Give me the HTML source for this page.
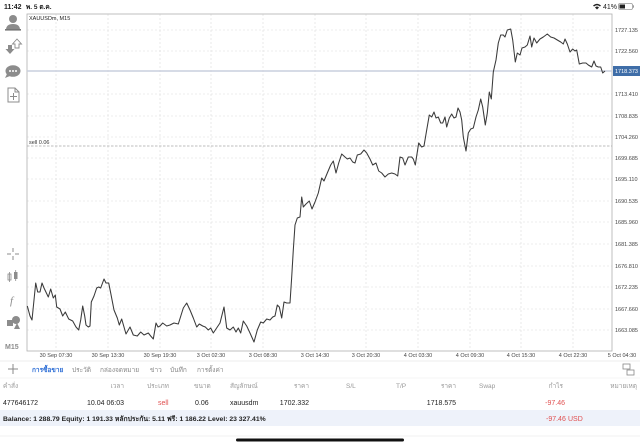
<!DOCTYPE html>
<html><head><meta charset="utf-8">
<style>
html,body{margin:0;padding:0;background:#fff;}
svg{display:block;font-family:"Liberation Sans","DejaVu Sans",sans-serif;}
</style></head>
<body>
<svg width="640" height="447" viewBox="0 0 640 447" xmlns="http://www.w3.org/2000/svg">
<rect width="640" height="447" fill="#fff"/>
<!-- status bar -->
<text x="4" y="9" font-size="7" fill="#222" font-weight="bold">11:42</text>
<text x="26" y="9" font-size="6.5" fill="#222" font-weight="bold">พ. 5 ต.ค.</text>
<g fill="#222">
<path d="M593 5.5 Q597 2 601 5.5 L600 6.5 Q597 4 594 6.5 Z"/>
<path d="M595 7.5 Q597 5.5 599 7.5 L597 9.5 Z"/>
</g>
<text x="603" y="9" font-size="7" fill="#222">41%</text>
<rect x="618.5" y="3.5" width="14" height="6" rx="1.5" fill="none" stroke="#999" stroke-width="0.8"/>
<rect x="619.5" y="4.5" width="5.5" height="4" fill="#222"/>
<rect x="633" y="5.3" width="1" height="2.4" fill="#999"/>

<!-- grid -->
<g stroke="#dcdcdc" stroke-width="0.6" stroke-dasharray="2,2">
<line x1="56" y1="14" x2="56" y2="351"/><line x1="108" y1="14" x2="108" y2="351"/>
<line x1="160" y1="14" x2="160" y2="351"/><line x1="211" y1="14" x2="211" y2="351"/>
<line x1="263" y1="14" x2="263" y2="351"/><line x1="315" y1="14" x2="315" y2="351"/>
<line x1="366" y1="14" x2="366" y2="351"/><line x1="418" y1="14" x2="418" y2="351"/>
<line x1="470" y1="14" x2="470" y2="351"/><line x1="521" y1="14" x2="521" y2="351"/>
<line x1="573" y1="14" x2="573" y2="351"/>
<line x1="27" y1="30" x2="612" y2="30"/><line x1="27" y1="51" x2="612" y2="51"/>
<line x1="27" y1="94" x2="612" y2="94"/><line x1="27" y1="116" x2="612" y2="116"/>
<line x1="27" y1="137" x2="612" y2="137"/><line x1="27" y1="158" x2="612" y2="158"/>
<line x1="27" y1="179" x2="612" y2="179"/><line x1="27" y1="201" x2="612" y2="201"/>
<line x1="27" y1="222" x2="612" y2="222"/><line x1="27" y1="244" x2="612" y2="244"/>
<line x1="27" y1="266" x2="612" y2="266"/><line x1="27" y1="287" x2="612" y2="287"/>
<line x1="27" y1="309" x2="612" y2="309"/><line x1="27" y1="330" x2="612" y2="330"/>
</g>
<!-- chart border -->
<rect x="27" y="14" width="585" height="337" fill="none" stroke="#b0b0b0" stroke-width="0.8"/>
<text x="29" y="20" font-size="5.5" fill="#222">XAUUSDm, M15</text>
<!-- sell line -->
<line x1="27" y1="146" x2="612" y2="146" stroke="#a8a8a8" stroke-width="0.7" stroke-dasharray="2.5,1.5"/>
<text x="29" y="144" font-size="5.5" fill="#333">sell 0.06</text>
<!-- current price line -->
<line x1="27" y1="71" x2="612" y2="71" stroke="#c9cfdd" stroke-width="1.4"/>

<!-- price line -->
<polyline fill="none" stroke="#3a3a3a" stroke-width="1.05" stroke-linejoin="round" points="27.3,306 30,316 32,320 35.7,283 37.7,292 40,292 42,283 44,288 48.3,297 50.7,289 53.3,298 55.3,295 56.7,307 60,309 62.7,316 65.3,312 68.7,319 72.7,321 76,327 78.7,330 80.7,320 82.7,306 84.7,316 86,325 88.3,327 90,326 91.3,302 94,296 96.7,288 98.7,287 100.7,288 104,279 106,283 108.7,283 110.7,293 114,310 117.3,318 119.3,325 121.7,319 126,334 130,327 133.3,335 137.3,336 140.7,332 144,335 148.3,333 150.7,336 153.3,339 156,323 158,327 160,326 162.7,323 166.7,326 170,325 174,323 178.3,324 183.3,308 186.7,303 190,310 193.3,318 196.7,327 199.3,324 202.7,326 205.3,327 208.3,330 210.7,328 213.3,333 217.3,327 220,323 224,307 226.7,328 230,330 233.3,327 236,332 238.3,328 240.7,333 243.3,321 246.7,326 250,333 254,342 257.3,330 260.7,322 263.3,323 266.7,319 270,320 272.7,317 275,316 277.3,305 279.3,307 281.7,318 284,302 286.7,303 290,303 291.7,277 293.3,250 295,225 297.3,218 300,217 301.7,197 303.3,207 306,204 309.3,201 312,209 315,202 318.3,193 321.7,178 324,181 327.3,173 330.7,165 333.3,161 336,173 338.7,163 341.7,154 345,157 347.3,159 350,158 352.7,162 355,163 357.3,155 360.7,154 364,150 366.7,153 370,159 372.7,165 376,163 378.7,171 381.7,173 385,177 388.3,174 391.7,173 395,174 397.7,176 400,157 402.7,158 405,165 408.3,157 411.7,157 413.3,159 415.3,165 418.7,143 421.7,147 424,146 426.7,130 429.3,115 431.7,117 434,112 436,118 438.3,117 440.7,123 442.7,123 445,117 446.7,127 449.3,118 451.7,114 454,118 456,117 458,108 460,112 461.7,120 463.3,137 466,151 468.3,133 470.7,129 473.3,128 476,117 478.3,110 480.7,99 482.7,107 485.3,125 487.3,113 489.3,92 491.3,99 493.3,72 496,60 498.3,43 500.7,35 503.3,35 505,37 507.3,30 510.7,29 512.7,40 515.3,62 517.3,53 520,55 522,48 525,47 527.3,45 530,36 531.7,47 534,38 536.7,43 540,39 543.3,37 547.3,34 550.7,37 554,38 557.3,40 560.7,42 563.3,44 565,39 567.3,44 570,52 572.7,49 575,51 576.7,50 579.3,64 582.7,63 586,63 588.3,65 591.7,67 594,61 596,66 598.3,67 600.7,67 602.7,73 605,71"/>

<!-- price axis labels -->
<g font-size="5.5" fill="#444">
<text x="615" y="32">1727.135</text>
<text x="615" y="53">1722.560</text>
<text x="615" y="96">1713.410</text>
<text x="615" y="118">1708.835</text>
<text x="615" y="139">1704.260</text>
<text x="615" y="160">1699.685</text>
<text x="615" y="181">1695.110</text>
<text x="615" y="203">1690.535</text>
<text x="615" y="224">1685.960</text>
<text x="615" y="246">1681.385</text>
<text x="615" y="268">1676.810</text>
<text x="615" y="289">1672.235</text>
<text x="615" y="311">1667.660</text>
<text x="615" y="332">1663.085</text>
</g>
<rect x="613" y="66" width="27" height="10" fill="#3f6ea8"/>
<text x="615" y="73" font-size="5.5" fill="#fff">1718.373</text>

<!-- time labels -->
<g font-size="5.5" fill="#444" text-anchor="middle">
<text x="56" y="357">30 Sep 07:30</text>
<text x="108" y="357">30 Sep 13:30</text>
<text x="160" y="357">30 Sep 19:30</text>
<text x="211" y="357">3 Oct 02:30</text>
<text x="263" y="357">3 Oct 08:30</text>
<text x="315" y="357">3 Oct 14:30</text>
<text x="366" y="357">3 Oct 20:30</text>
<text x="418" y="357">4 Oct 03:30</text>
<text x="470" y="357">4 Oct 09:30</text>
<text x="521" y="357">4 Oct 15:30</text>
<text x="573" y="357">4 Oct 22:30</text>
<text x="622" y="357">5 Oct 04:30</text>
</g>

<!-- left toolbar icons -->
<g fill="#8c8c8c">
<circle cx="13" cy="19" r="4"/>
<path d="M6 30 Q6 24 13 24 Q20 24 20 30 Z"/>
<rect x="5" y="29" width="16" height="1.6" fill="#777"/>
<path d="M8 45 L12 45 L12 49 L14.5 49 L10 54 L5.5 49 L8 49 Z"/>
<path d="M15 48 L15 44 L12.5 44 L17 39 L21.5 44 L19 44 L19 48 Z" fill="none" stroke="#8c8c8c" stroke-width="0.9"/>
<ellipse cx="13" cy="71" rx="7.5" ry="5.8"/>
<path d="M7 74 L5 78 L10 76 Z"/>
<circle cx="10" cy="71" r="1" fill="#fff"/><circle cx="13" cy="71" r="1" fill="#fff"/><circle cx="16" cy="71" r="1" fill="#fff"/>
</g>
<g fill="none" stroke="#8c8c8c" stroke-width="1">
<path d="M8 88 L15 88 L19 92 L19 102 L8 102 Z"/>
<path d="M15 88 L15 92 L19 92"/>
<path d="M13.5 93 L13.5 100 M10 96.5 L17 96.5"/>
<path d="M13 248 L13 252 M13 256 L13 260 M7 254 L11 254 M15 254 L19 254"/>
</g>
<g fill="#8c8c8c">
<rect x="8" y="274" width="3" height="6" fill="none" stroke="#8c8c8c" stroke-width="0.8"/>
<line x1="9.5" y1="272" x2="9.5" y2="282" stroke="#8c8c8c" stroke-width="0.8"/>
<rect x="14" y="272" width="3.5" height="7"/>
<line x1="15.7" y1="270" x2="15.7" y2="281" stroke="#8c8c8c" stroke-width="0.8"/>
<text x="10" y="304" font-size="11" font-style="italic" font-family="Liberation Serif, serif">f</text>
<circle cx="16" cy="320" r="4"/>
<rect x="7" y="320" width="6" height="6"/>
<path d="M14 329 L17 323 L20 329 Z"/>
<text x="5" y="349" font-size="7" font-weight="bold">M15</text>
</g>

<!-- bottom panel -->
<line x1="0" y1="361" x2="640" y2="361" stroke="#ececec" stroke-width="1"/>
<line x1="0" y1="378" x2="640" y2="378" stroke="#f0f0f0" stroke-width="0.8"/>
<path d="M8 369 L18 369 M13 364 L13 374" stroke="#888" stroke-width="1"/>
<g font-size="6.5" fill="#888">
<text x="32" y="372" fill="#2f6fd6" font-weight="bold">การซื้อขาย</text>
<text x="72" y="372">ประวัติ</text>
<text x="100" y="372">กล่องจดหมาย</text>
<text x="150" y="372">ข่าว</text>
<text x="170" y="372">บันทึก</text>
<text x="197" y="372">การตั้งค่า</text>
</g>
<g fill="none" stroke="#888" stroke-width="0.8">
<rect x="623" y="364" width="7" height="5"/>
<rect x="627" y="370" width="7" height="5"/>
</g>
<!-- header row -->
<g font-size="6.5" fill="#999">
<text x="3" y="388">คำสั่ง</text>
<text x="124" y="388" text-anchor="end">เวลา</text>
<text x="147" y="388">ประเภท</text>
<text x="194" y="388">ขนาด</text>
<text x="230" y="388">สัญลักษณ์</text>
<text x="309" y="388" text-anchor="end">ราคา</text>
<text x="346" y="388">S/L</text>
<text x="396" y="388">T/P</text>
<text x="456" y="388" text-anchor="end">ราคา</text>
<text x="479" y="388">Swap</text>
<text x="563" y="388" text-anchor="end">กำไร</text>
<text x="637" y="388" text-anchor="end">หมายเหตุ</text>
</g>
<!-- data row -->
<g font-size="7" fill="#222">
<text x="3" y="405">477646172</text>
<text x="87" y="405">10.04 06:03</text>
<text x="158" y="405" fill="#e05050">sell</text>
<text x="195" y="405">0.06</text>
<text x="230" y="405">xauusdm</text>
<text x="309" y="405" text-anchor="end">1702.332</text>
<text x="456" y="405" text-anchor="end">1718.575</text>
<text x="565" y="405" text-anchor="end" fill="#e05050">-97.46</text>
</g>
<!-- balance row -->
<rect x="0" y="410" width="640" height="16" fill="#eef2fa"/>
<text x="3" y="421" font-size="6.8" font-weight="bold" fill="#222">Balance: 1 288.79 Equity: 1 191.33 หลักประกัน: 5.11 ฟรี: 1 186.22 Level: 23 327.41%</text>
<text x="546" y="421" font-size="7" fill="#e05050">-97.46</text>
<text x="568" y="421" font-size="7" fill="#e05050">USD</text>
<line x1="0" y1="436" x2="640" y2="436" stroke="#eeeeee" stroke-width="0.8"/>
<rect x="236" y="438.5" width="168" height="3" rx="1.5" fill="#111"/>
</svg>
</body></html>
